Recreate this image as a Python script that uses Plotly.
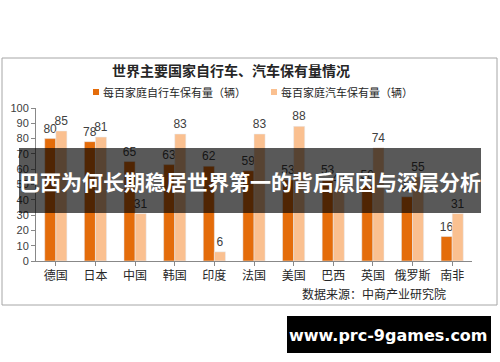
import plotly.graph_objects as go

countries = ["德国", "日本", "中国", "韩国", "印度", "法国", "美国", "巴西", "英国", "俄罗斯", "南非"]
bikes = [80, 78, 65, 63, 62, 59, 53, 53, 50, 42, 16]
cars = [85, 81, 31, 83, 6, 83, 88, 47, 74, 55, 31]
bike_name = "每百家庭自行车保有量（辆）"
car_name = "每百家庭汽车保有量（辆）"
title_text = "世界主要国家自行车、汽车保有量情况"
source_text = "数据来源：中商产业研究院"
banner_text = "巴西为何长期稳居世界第一的背后原因与深层分析"
site_text = "www.prc-9games.com"

W, H = 500, 362
L, R, T, B = 36, 472, 108, 261
FONT = "Noto Sans CJK SC, Noto Sans, sans-serif"
NUM_FONT = "Liberation Sans, Arial, sans-serif"
BIKE_COLOR = "#E46C0A"
CAR_COLOR = "#FAC090"

def px(x):
    return (x - L) / (R - L)

def py(y):
    return (B - y) / (B - T)

fig = go.Figure()
fig.add_trace(go.Bar(x=countries, y=bikes, name=bike_name, marker_color=BIKE_COLOR,
                     text=bikes, textposition="outside", cliponaxis=False, constraintext="none",
                     textfont=dict(size=12, color="#404040", family=NUM_FONT)))
fig.add_trace(go.Bar(x=countries, y=cars, name=car_name, marker_color=CAR_COLOR,
                     text=cars, textposition="outside", cliponaxis=False, constraintext="none",
                     textfont=dict(size=12, color="#404040", family=NUM_FONT)))

fig.update_layout(
    width=W, height=H,
    margin=dict(l=L, r=W - R, t=T, b=H - B, pad=0, autoexpand=False),
    paper_bgcolor="white", plot_bgcolor="white",
    font=dict(family=FONT, size=11, color="#404040"),
    barmode="group", bargap=0.44, bargroupgap=0,
    showlegend=False,
    xaxis=dict(showline=True, linecolor="#888888", linewidth=1, ticks="outside",
               ticklen=4, tickcolor="#888888", showgrid=False, automargin=False,
               tickfont=dict(size=12, color="#262626"), range=[-0.5, 10.5]),
    yaxis=dict(range=[0, 100], dtick=10, showline=True, linecolor="#888888",
               linewidth=1, ticks="outside", ticklen=4, tickcolor="#888888", automargin=False,
               showgrid=False, zeroline=False,
               tickfont=dict(size=11, color="#404040", family=NUM_FONT)),
)

shapes = [
    dict(type="rect", xref="paper", yref="paper", x0=px(2), x1=px(497), y0=py(58), y1=py(305),
         line=dict(color="#A6A6A6", width=1), fillcolor="rgba(0,0,0,0)", layer="below"),
    # legend markers
    dict(type="rect", xref="paper", yref="paper", x0=px(93), x1=px(99), y0=py(89), y1=py(95),
         line=dict(width=0), fillcolor=BIKE_COLOR, layer="above"),
    dict(type="rect", xref="paper", yref="paper", x0=px(271), x1=px(277), y0=py(89), y1=py(95),
         line=dict(width=0), fillcolor=CAR_COLOR, layer="above"),
    # overlays
    dict(type="rect", xref="paper", yref="paper", x0=px(19), x1=px(481), y0=py(148), y1=py(213),
         line=dict(width=0), fillcolor="rgba(0,0,0,0.65)", layer="above"),
    dict(type="rect", xref="paper", yref="paper", x0=px(287), x1=px(491), y0=py(316), y1=py(353),
         line=dict(width=0), fillcolor="black", layer="above"),
]
fig.update_layout(shapes=shapes)

def ann(text, x, y, size, color="#262626", xanchor="center", family=FONT):
    return dict(text=text, x=px(x), y=py(y), xref="paper", yref="paper",
                xanchor=xanchor, yanchor="middle", showarrow=False,
                font=dict(size=size, color=color, family=family))

annotations = [
    ann("<b>" + title_text + "</b>", 231, 70, 14),
    ann(bike_name, 101, 92, 11, xanchor="left"),
    ann(car_name, 279, 92, 11, xanchor="left"),
    ann(source_text, 448, 293, 12, xanchor="right"),
    ann("<b>" + banner_text + "</b>", 250, 181, 21, color="white"),
    ann("<b>" + site_text + "</b>", 388, 335, 16, color="white",
        family="DejaVu Sans, sans-serif"),
]
fig.update_layout(annotations=annotations)

fig.write_html("out.html", config={"displayModeBar": False},
               post_script="document.body.style.margin='0px';")
